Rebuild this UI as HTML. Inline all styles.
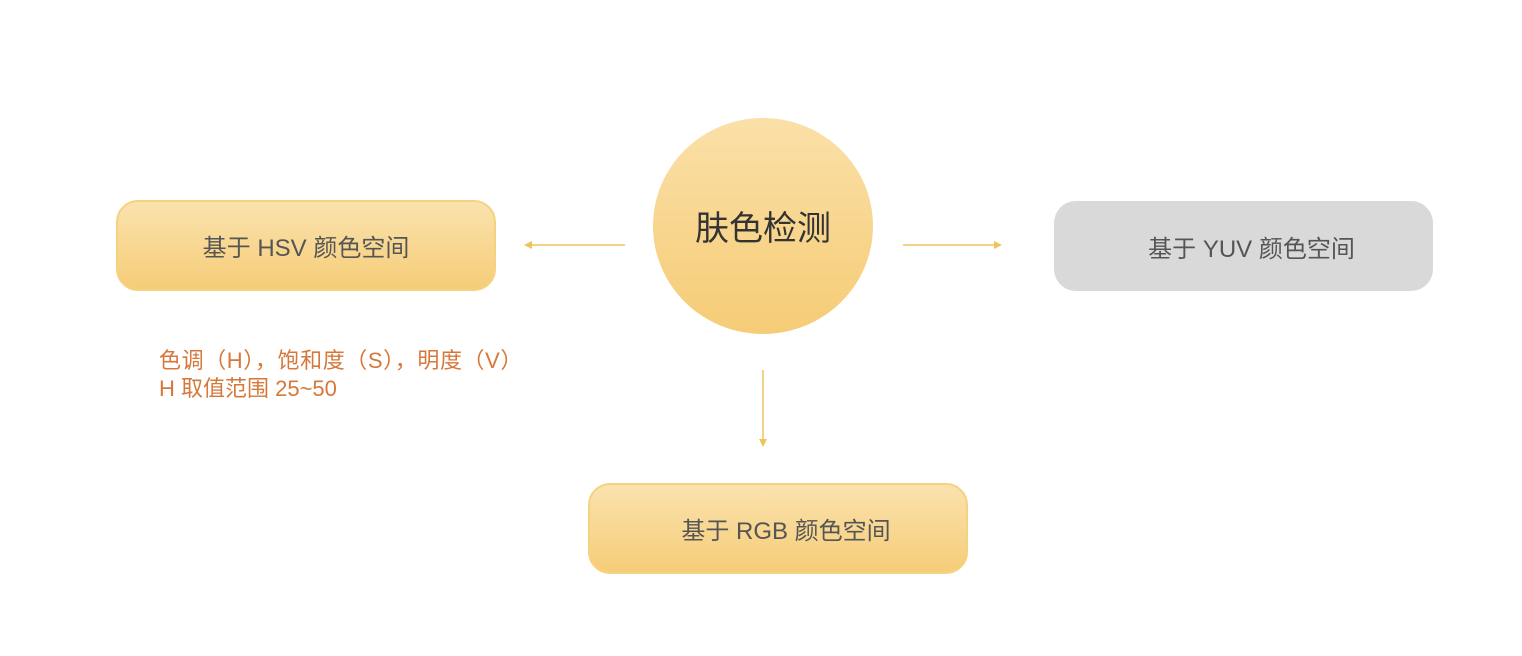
<!DOCTYPE html>
<html><head><meta charset="utf-8"><style>
body{margin:0;width:1522px;height:656px;background:#fff;position:relative;overflow:hidden;font-family:"Liberation Sans","Noto Sans CJK SC",sans-serif;}
.box{position:absolute;box-sizing:border-box;border-radius:22px;display:flex;align-items:center;justify-content:center;font-size:24px;color:#555;}
.y{background:linear-gradient(#fae2ae,#f6cd78);border:2px solid #f5d27f;}
.g{background:#d9d9d9;}
.c{position:absolute;left:653px;top:118px;width:220px;height:216px;border-radius:50%;background:linear-gradient(#fae0a8,#f6cc76);display:flex;align-items:center;justify-content:center;font-size:34px;color:#333;padding-bottom:2px;box-sizing:border-box;}
.note{position:absolute;left:159px;top:347px;color:#d6783a;font-size:22px;line-height:28px;}
</style></head><body>
<div class="box y" style="left:116px;top:200px;width:380px;height:91px;">基于 HSV 颜色空间</div>
<div class="box g" style="left:1054px;top:201px;width:379px;height:90px;padding-left:16px;">基于 YUV 颜色空间</div>
<div class="box y" style="left:588px;top:483px;width:380px;height:91px;padding-left:16px;">基于 RGB 颜色空间</div>
<div class="c">肤色检测</div>
<div class="note"><span style="letter-spacing:0.6px">色调（H），饱和度（S），明度（V）</span><br>H 取值范围 25~50</div>
<svg width="1522" height="656" style="position:absolute;left:0;top:0">
<g stroke="#eec35a" stroke-width="1.5" fill="#eec35a">
<line x1="625" y1="245" x2="530" y2="245"/><polygon points="524,245 532,241 532,249" stroke="none"/>
<line x1="903" y1="245" x2="996" y2="245"/><polygon points="1002,245 994,241 994,249" stroke="none"/>
<line x1="763" y1="370" x2="763" y2="441"/><polygon points="763,447 759,439 767,439" stroke="none"/>
</g></svg>
</body></html>
